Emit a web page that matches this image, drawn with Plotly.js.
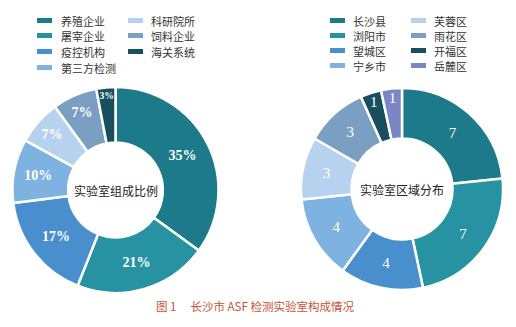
<!DOCTYPE html>
<html><head><meta charset="utf-8">
<script src="https://cdn.plot.ly/plotly-3.0.1.min.js"></script>
<style>html,body{margin:0;padding:0;background:#fff}#c{width:516px;height:327px}</style>
</head><body><div id="c"></div>
<script>
const typeLabels = ['养殖企业','屠宰企业','疫控机构','第三方检测','科研院所','饲料企业','海关系统'];
const typeValues = [35,21,17,10,7,7,3];
const typeColors = ['#1c7a8b','#2793a2','#4a8fcd','#7eb2e0','#b7d2ee','#7b9ec3','#184f5e'];
const areaLabels = ['长沙县','浏阳市','望城区','宁乡市','芙蓉区','雨花区','开福区','岳麓区'];
const areaValues = [7,7,4,4,3,3,1,1];
const areaColors = ['#1c7a8b','#2793a2','#4a8fcd','#7eb2e0','#b7d2ee','#7b9ec3','#184f5e','#7b86c5'];
const leftCenterText = '实验室组成比例';
const rightCenterText = '实验室区域分布';
const captionText = '图 1　 长沙市 ASF 检测实验室构成情况';

const W = 516, H = 327;
const px = x => x / W, py = y => 1 - y / H;
const cjk = '"Noto Sans CJK SC", "Noto Sans", sans-serif';
const serif = '"Liberation Serif", "Times New Roman", serif';

const traces = [
  {type:'pie', labels:typeLabels, values:typeValues, sort:false, direction:'clockwise', rotation:0,
   hole:0.46, marker:{colors:typeColors, line:{color:'#ffffff', width:2.5}},
   texttemplate:'%{value}%', textposition:'inside', insidetextorientation:'horizontal',
   textfont:{family:serif, size:14, color:'#ffffff', weight:'bold'},
   domain:{x:[px(12.5), px(218.5)], y:[py(293), py(87)]}, showlegend:false, hoverinfo:'label+value'},
  {type:'pie', labels:areaLabels, values:areaValues, sort:false, direction:'clockwise', rotation:0,
   hole:0.5, marker:{colors:areaColors, line:{color:'#ffffff', width:2.5}},
   texttemplate:'%{value}', textposition:'inside', insidetextorientation:'horizontal',
   textfont:{family:serif, size:15, color:'#ffffff'},
   domain:{x:[px(301), px(503)], y:[py(290), py(88)]}, showlegend:false, hoverinfo:'label+value'}
];

const shapes = [], annotations = [];
function buildLegend(labels, colors, cols, rows) {
  labels.forEach((lab, i) => {
    const c = Math.floor(i / 4), r = i % 4;
    const sx = cols[c][0], tx = cols[c][1], y = rows[r];
    shapes.push({type:'rect', xref:'paper', yref:'paper', x0:px(sx), x1:px(sx+15), y0:py(y+2.5), y1:py(y-2.5),
      fillcolor:colors[i], line:{width:0}});
    annotations.push({xref:'paper', yref:'paper', x:px(tx), y:py(y), xanchor:'left', yanchor:'middle',
      text:lab, showarrow:false, height:13, borderpad:0, font:{family:cjk, size:11, color:'#333333'}});
  });
}
buildLegend(typeLabels, typeColors, [[37,60],[128,150]], [20.5,35.5,51.5,67.5]);
buildLegend(areaLabels, areaColors, [[330,352],[411,433]], [20.5,35.5,50.5,65.5]);

annotations.push({xref:'paper', yref:'paper', x:px(115.5), y:py(190), xanchor:'center', yanchor:'middle',
  text:leftCenterText, showarrow:false, font:{family:cjk, size:12, color:'#222222'}});
annotations.push({xref:'paper', yref:'paper', x:px(402), y:py(189), xanchor:'center', yanchor:'middle',
  text:rightCenterText, showarrow:false, font:{family:cjk, size:12, color:'#222222'}});
annotations.push({xref:'paper', yref:'paper', x:px(255), y:py(306), xanchor:'center', yanchor:'middle',
  text:captionText, showarrow:false, font:{family:cjk, size:11.5, color:'#c4533a'}});

const layout = {width:W, height:H, margin:{l:0,r:0,t:0,b:0}, paper_bgcolor:'#ffffff', plot_bgcolor:'#ffffff',
  showlegend:false, shapes, annotations};
Plotly.newPlot('c', traces, layout, {displayModeBar:false, staticPlot:true});
</script></body></html>
